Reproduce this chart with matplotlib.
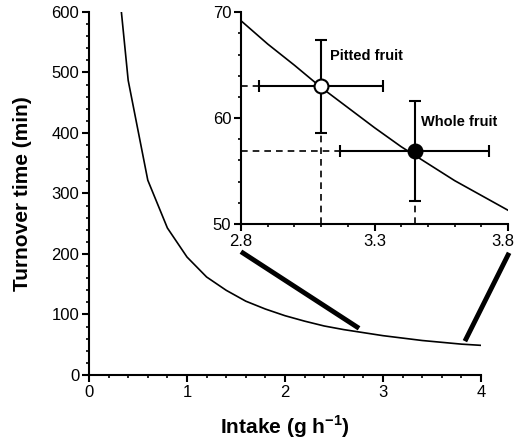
import matplotlib
matplotlib.use("Agg")
import matplotlib.pyplot as plt
import matplotlib.transforms as mtransforms
from matplotlib.ticker import MultipleLocator
from matplotlib.lines import Line2D

plt.rcParams['font.family'] = ['Liberation Sans', 'DejaVu Sans']
plt.rcParams['mathtext.fontset'] = 'custom'
plt.rcParams['mathtext.bf'] = 'Liberation Sans:bold'
plt.rcParams['mathtext.rm'] = 'Liberation Sans'

# Main curve (intake g/h vs turnover time min)
intake = [0.3, 0.4, 0.6, 0.8, 1.0, 1.2, 1.4, 1.6, 1.8, 2.0, 2.2, 2.4, 2.6, 2.8,
          3.0, 3.2, 3.4, 3.6, 3.8, 4.0]
turnover = [650, 487, 322, 243, 195, 162, 140, 122, 109, 98, 89, 81, 75, 70,
            65, 61, 57, 54, 51, 49]

# Inset curve
inset_x = [2.8, 2.9, 3.0, 3.1, 3.2, 3.3, 3.4, 3.5, 3.6, 3.7, 3.8]
inset_y = [69.2, 67.0, 65.0, 62.9, 61.0, 59.1, 57.3, 55.7, 54.1, 52.7, 51.3]
inset_ticks = [2.8, 3.3, 3.8]
inset_ticklabels = ["2.8", "3.3", "3.8"]

# Fruit points
names = ["Pitted fruit", "Whole fruit"]
fruit_x = [3.10, 3.45]
fruit_y = [63.0, 56.9]
fruit_xerr = [0.233, 0.28]
fruit_yerr = [4.4, 4.75]
fruit_face = ["white", "black"]

fig = plt.figure(figsize=(5.17, 4.42), dpi=100)

ax = fig.add_axes([0.1721, 0.1516, 0.7583, 0.8213])
ax.plot(intake, turnover, color='black', lw=1.2)
ax.set_xlim(0, 4)
ax.set_ylim(0, 600)
ax.spines['top'].set_visible(False)
ax.spines['right'].set_visible(False)
for s in ['left', 'bottom']:
    ax.spines[s].set_linewidth(1.5)
ax.xaxis.set_major_locator(MultipleLocator(1))
ax.xaxis.set_minor_locator(MultipleLocator(0.2))
ax.yaxis.set_major_locator(MultipleLocator(100))
ax.yaxis.set_minor_locator(MultipleLocator(20))
ax.tick_params(which='major', direction='out', length=5, width=1.5, labelsize=12, pad=2)
ax.tick_params(which='minor', direction='out', length=2.5, width=1.2)
ax.set_xlabel("Intake (g h$^{\\mathbf{-1}}$)", fontsize=15, fontweight='bold', labelpad=10)
ax.set_ylabel("Turnover time (min)", fontsize=15, fontweight='bold', labelpad=14)

# Inset
ins = fig.add_axes([0.4662, 0.4932, 0.5164, 0.4790])
ins.plot(inset_x, inset_y, color='black', lw=1.2, zorder=2)
for i in range(len(names)):
    ins.plot([2.8, fruit_x[i]], [fruit_y[i], fruit_y[i]], ls=(0, (4, 3)), color='black', lw=1.2, zorder=1)
    ins.plot([fruit_x[i], fruit_x[i]], [50, fruit_y[i]], ls=(0, (4, 3)), color='black', lw=1.2, zorder=1)
    ins.errorbar(fruit_x[i], fruit_y[i], xerr=fruit_xerr[i], yerr=fruit_yerr[i],
                 fmt='o', ms=10, mfc=fruit_face[i], mec='black', mew=1.5,
                 ecolor='black', elinewidth=1.5, capsize=4, capthick=1.5, zorder=3)
ins.text(3.135, 65.9, names[0], fontsize=10.5, fontweight='bold', va='center', ha='left')
ins.text(3.475, 59.6, names[1], fontsize=10.5, fontweight='bold', va='center', ha='left')
ins.set_xlim(2.8, 3.8)
ins.set_ylim(50, 70)
ins.set_facecolor('none')
ins.spines['top'].set_visible(False)
ins.spines['right'].set_visible(False)
for s in ['left', 'bottom']:
    ins.spines[s].set_linewidth(1.5)
ins.xaxis.set_minor_locator(MultipleLocator(0.1))
ins.yaxis.set_major_locator(MultipleLocator(10))
ins.yaxis.set_minor_locator(MultipleLocator(2))
ins.tick_params(which='major', direction='out', length=5, width=1.5, labelsize=12, pad=2)
ins.tick_params(which='minor', direction='out', length=2.5, width=1.2)
ins.set_xticks(inset_ticks)
ins.set_xticklabels(inset_ticklabels)
last = ins.get_xticklabels()[-1]
last.set_transform(last.get_transform() + mtransforms.ScaledTranslation(-5/100, 0, fig.dpi_scale_trans))

# Connector lines (figure coordinates)
fig.add_artist(Line2D([243/517, 357/517], [1-253/442, 1-327/442], color='black', lw=3.5, transform=fig.transFigure))
fig.add_artist(Line2D([508/517, 466/517], [1-255/442, 1-339/442], color='black', lw=3.5, transform=fig.transFigure))

fig.savefig("out.png", dpi=100)
